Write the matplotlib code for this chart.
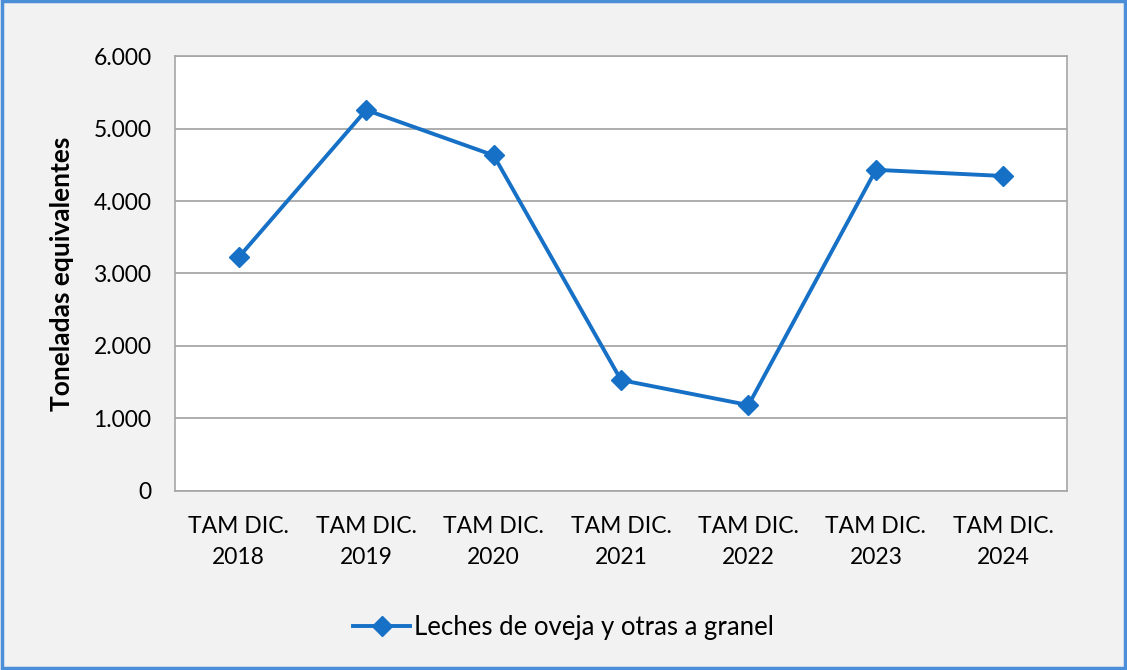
import matplotlib.pyplot as plt
from matplotlib.patches import Rectangle

# Données
categorias = ["TAM DIC.\n2018", "TAM DIC.\n2019", "TAM DIC.\n2020", "TAM DIC.\n2021",
              "TAM DIC.\n2022", "TAM DIC.\n2023", "TAM DIC.\n2024"]
toneladas = [3225, 5255, 4630, 1530, 1185, 4430, 4345]
y_ticks = [0, 1000, 2000, 3000, 4000, 5000, 6000]
y_labels = ["0", "1.000", "2.000", "3.000", "4.000", "5.000", "6.000"]
serie = "Leches de oveja y otras a granel"

plt.rcParams['font.family'] = ['Lato', 'DejaVu Sans']

azul = '#1570c6'
fig = plt.figure(figsize=(11.27, 6.7), dpi=100, facecolor='#f2f2f2')
ax = fig.add_axes([0.1553, 0.2672, 0.7915, 0.6492])
ax.set_facecolor('white')

x = list(range(len(toneladas)))
ax.plot(x, toneladas, color=azul, linewidth=2.8, marker='D', markersize=10,
        label=serie, zorder=3)

ax.set_xlim(-0.5, len(x) - 0.5)
ax.set_ylim(0, 6000)
ax.set_yticks(y_ticks)
ax.set_yticklabels(y_labels, fontsize=16.5)
ax.set_xticks(x)
ax.set_xticklabels(categorias, fontsize=16.5, linespacing=1.6)
ax.tick_params(axis='y', length=0, pad=17)
ax.tick_params(axis='x', length=0, pad=18)
ax.grid(axis='y', color='#a0a0a0', linewidth=1.2)
ax.set_axisbelow(True)
for s in ax.spines.values():
    s.set_color('#a6a6a6')
    s.set_linewidth(1.2)

ax.set_ylabel("Toneladas equivalentes", fontsize=19, fontweight='bold', labelpad=14)

fig.legend(loc='center', bbox_to_anchor=(0.5, 0.063), frameon=False, fontsize=18.5,
           handlelength=2.2, handletextpad=0.15)

# Marco azul
fig.patches.append(Rectangle((0.002, 0.003), 0.996, 0.995, transform=fig.transFigure,
                             fill=False, edgecolor='#4a8fd8', linewidth=2.5))

fig.savefig("out.png", dpi=100, facecolor=fig.get_facecolor())
